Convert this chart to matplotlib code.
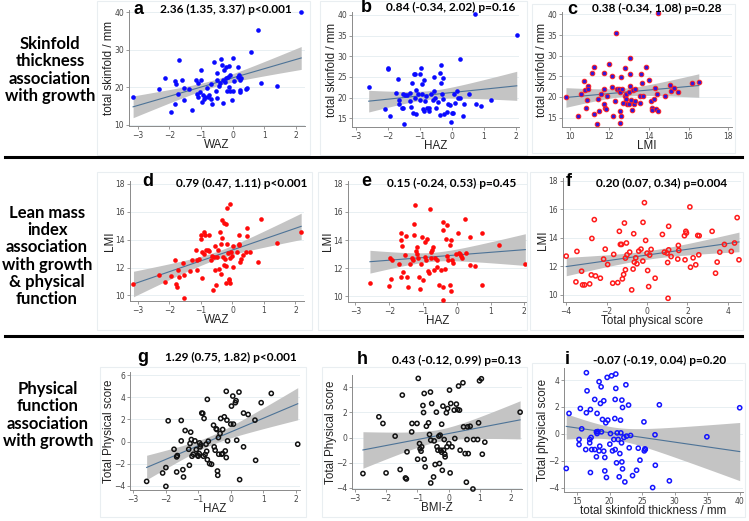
import numpy as np
import matplotlib
matplotlib.use("Agg")
import matplotlib.pyplot as plt
from matplotlib.patches import Rectangle

# ------------------------------------------------------------------
# data (one x list and one y list per panel)
# ------------------------------------------------------------------
waz_a = [-3.15, -2.34, -2.14, -1.95, -1.82, -1.79, -1.82, -1.71, -1.73, -1.60,
         -1.55, -1.53, -1.38, -1.30, -1.15, -1.11, -1.14, -1.11, -1.01, -1.01,
         -1.03, -0.97, -0.95, -0.91, -0.86, -0.82, -0.78, -0.74, -0.68, -0.64,
         -0.68, -0.59, -0.54, -0.51, -0.49, -0.49, -0.44, -0.39, -0.36, -0.34,
         -0.30, -0.32, -0.26, -0.25, -0.22, -0.20, -0.18, -0.15, -0.13, -0.11,
         -0.07, -0.07, -0.02, 0.01, 0.00, 0.03, 0.16, 0.18, 0.20, 0.22,
         0.22, 0.24, 0.26, 0.43, 0.45, 0.57, 0.81, 0.89, 1.41, 2.17]
skin_a = [17.3, 19.4, 22.4, 13.3, 21.7, 20.8, 15.5, 27.2, 18.2, 21.8,
          16.5, 19.7, 19.6, 13.9, 22.0, 21.1, 18.2, 17.3, 24.5, 22.0,
          18.6, 16.1, 18.0, 16.8, 17.3, 19.7, 17.3, 18.0, 16.8, 15.4,
          20.8, 26.8, 19.0, 23.8, 21.8, 17.0, 20.4, 21.0, 27.4, 25.8,
          15.7, 21.8, 24.5, 21.3, 22.4, 25.4, 19.0, 22.8, 19.9, 25.6,
          23.3, 18.9, 16.6, 27.8, 19.0, 21.7, 25.5, 22.7, 23.2, 19.2,
          18.8, 22.0, 22.4, 19.4, 19.7, 29.4, 35.2, 21.0, 20.4, 40.1]

haz_b = [0.73, 2.02, 0.24, -2.0, -2.0, -0.96, -0.33, -1.19, -1.16, -1.0,
         -0.57, -0.36, -0.28, -1.67, -1.25, -0.88, -0.93, -1.73, -1.53, -1.45,
         -1.41, -1.30, -1.13, -1.04, -1.14, -1.65, -1.65, -1.56, -1.51, -1.30,
         -1.27, -1.21, -1.11, -0.98, -0.93, -0.90, -0.86, -0.83, -0.80, -0.77,
         -0.72, -0.70, -0.64, -0.59, -0.55, -0.52, -0.49, -0.44, -0.38, -0.34,
         -0.32, -0.28, -0.24, -0.16, -0.13, -0.07, -0.02, 0.01, 0.05, 0.07,
         0.11, 0.16, 0.18, 0.26, 0.36, 0.38, 0.52, 0.74, 0.92, 1.22,
         -1.48, -1.94, -2.08, -2.59]
skin_b = [40.1, 35.2, 29.4, 27.1, 26.8, 27.2, 27.8, 25.6, 25.6, 25.7,
          24.9, 25.9, 24.8, 24.6, 23.6, 24.2, 23.3, 21.0, 20.9, 20.6,
          20.7, 21.2, 21.8, 20.8, 19.8, 19.5, 18.5, 17.5, 17.5, 19.1,
          17.7, 16.3, 16.0, 19.4, 20.9, 17.2, 16.8, 19.1, 20.5, 17.6,
          16.8, 17.5, 20.9, 19.5, 21.5, 20.0, 17.5, 18.9, 15.7, 23.6,
          20.9, 19.6, 16.1, 16.5, 18.5, 18.1, 14.0, 16.2, 16.2, 20.9,
          18.7, 21.5, 20.0, 20.0, 15.6, 18.5, 20.9, 18.5, 18.0, 19.5,
          13.6, 15.6, 17.3, 22.5]

lmi_c = [9.8, 10.42, 10.55, 10.71, 10.76, 10.81, 10.87, 10.92, 10.92, 11.14,
         11.21, 11.21, 11.38, 11.43, 11.48, 11.55, 11.73, 11.73, 11.73, 11.78,
         11.85, 11.88, 11.98, 12.12, 12.15, 12.18, 12.27, 12.35, 12.39, 12.49,
         12.55, 12.55, 12.57, 12.55, 12.6, 12.64, 12.69, 12.77, 12.77, 12.82,
         12.86, 12.91, 12.97, 12.99, 13.03, 13.06, 13.06, 13.11, 13.16, 13.19,
         13.23, 13.28, 13.28, 13.53, 13.56, 13.61, 13.66, 13.70, 13.83, 14.0,
         14.12, 14.17, 14.17, 14.24, 14.29, 14.34, 14.47, 14.47, 14.40, 14.79,
         15.04, 15.09, 15.29, 15.46, 16.18, 16.52]
skin_c = [20.0, 15.4, 20.7, 23.8, 21.6, 17.3, 19.3, 22.6, 21.8, 25.9,
          27.3, 15.9, 13.5, 19.6, 16.5, 20.8, 25.9, 22.0, 18.3, 17.3,
          17.0, 20.1, 28.0, 25.1, 22.3, 15.4, 18.9, 35.4, 22.0, 21.9,
          21.3, 16.7, 15.4, 13.7, 24.9, 22.0, 18.6, 20.2, 26.9, 19.4,
          20.8, 18.3, 21.3, 18.4, 22.6, 25.5, 29.4, 19.3, 16.9, 21.6,
          18.3, 21.9, 19.0, 20.1, 18.6, 25.5, 23.4, 20.3, 27.3, 24.2,
          19.1, 17.3, 16.9, 19.6, 22.1, 17.1, 40.3, 16.7, 20.6, 20.1,
          22.9, 21.5, 22.1, 21.3, 23.4, 23.7]

waz_d = [-3.14, -2.34, -2.15, -1.95, -1.81, -1.80, -1.77, -1.72, -1.68, -1.58,
         -1.55, -1.53, -1.34, -1.28, -1.16, -1.11, -1.11, -1.06, -1.01, -0.99,
         -0.97, -0.96, -0.91, -0.89, -0.86, -0.83, -0.78, -0.75, -0.74, -0.68,
         -0.64, -0.61, -0.58, -0.56, -0.54, -0.51, -0.49, -0.47, -0.44, -0.41,
         -0.36, -0.36, -0.34, -0.32, -0.31, -0.28, -0.26, -0.24, -0.22, -0.20,
         -0.19, -0.18, -0.16, -0.14, -0.11, -0.11, -0.09, -0.07, -0.07, -0.05,
         -0.03, 0.01, 0.03, 0.16, 0.20, 0.22, 0.22, 0.24, 0.28, 0.32,
         0.43, 0.45, 0.45, 0.57, 0.82, 0.91, 1.41, 2.18]
lmi_d = [10.84, 11.46, 10.98, 11.41, 12.56, 10.82, 10.60, 11.79, 11.29, 12.32,
         11.46, 9.81, 11.72, 12.56, 13.27, 12.51, 11.84, 12.61, 14.04, 14.35,
         11.25, 13.08, 12.99, 14.56, 14.32, 13.27, 13.27, 14.35, 13.20, 12.56,
         12.84, 10.41, 12.75, 13.51, 11.84, 10.77, 12.75, 13.27, 11.89, 14.52,
         11.55, 13.70, 15.37, 14.11, 12.75, 12.20, 15.18, 12.61, 15.11, 12.13,
         10.89, 16.26, 13.68, 13.04, 11.08, 11.17, 12.68, 16.57, 10.89, 13.08,
         12.84, 13.51, 12.03, 13.08, 13.63, 14.32, 13.70, 12.37, 12.61, 12.92,
         13.13, 14.85, 14.28, 13.13, 12.37, 15.49, 13.75, 14.54]

haz_e = [-2.57, -2.01, -1.96, -1.98, -1.91, -1.72, -1.66, -1.64, -1.62, -1.64,
         -1.58, -1.52, -1.51, -1.47, -1.45, -1.37, -1.32, -1.29, -1.27, -1.27,
         -1.23, -1.21, -1.19, -1.17, -1.14, -1.12, -1.09, -1.05, -1.02, -0.99,
         -0.95, -0.94, -0.92, -0.87, -0.85, -0.82, -0.79, -0.77, -0.75, -0.72,
         -0.69, -0.67, -0.65, -0.59, -0.57, -0.53, -0.47, -0.42, -0.40, -0.40,
         -0.40, -0.36, -0.33, -0.30, -0.28, -0.26, -0.21, -0.20, -0.18, -0.16,
         -0.13, -0.10, -0.02, 0.04, 0.07, 0.10, 0.14, 0.17, 0.24, 0.27,
         0.40, 0.40, 0.53, 0.74, 0.76, 1.25, 2.03]
lmi_e = [10.94, 10.77, 11.20, 12.75, 12.56, 12.32, 14.0, 14.47, 13.56, 11.36,
         11.72, 12.96, 14.32, 11.36, 10.70, 12.27, 12.75, 12.56, 14.35, 15.11,
         16.50, 13.20, 12.99, 13.51, 12.75, 11.41, 10.53, 12.27, 14.23, 11.13,
         12.80, 13.85, 12.56, 14.11, 11.77, 11.65, 16.19, 12.75, 13.16, 13.32,
         13.51, 11.84, 12.75, 12.61, 12.08, 10.84, 11.84, 15.30, 14.75, 10.70,
         9.74, 11.96, 14.11, 12.84, 15.06, 12.61, 13.63, 10.84, 14.04, 10.41,
         12.56, 12.37, 13.04, 14.47, 13.08, 12.99, 12.84, 12.75, 15.47, 13.08,
         14.23, 12.20, 12.13, 14.47, 10.84, 13.68, 12.32]

phys_f = [-4.0, -3.52, -3.47, -3.24, -3.19, -3.09, -2.84, -2.76, -2.73, -2.61,
          -2.55, -2.31, -2.15, -2.07, -1.95, -1.70, -1.65, -1.45, -1.37, -1.32,
          -1.26, -1.22, -1.16, -1.12, -1.07, -1.07, -1.02, -0.99, -0.86, -0.76,
          -0.69, -0.66, -0.63, -0.56, -0.50, -0.41, -0.30, -0.21, -0.20, -0.13,
          -0.07, 0.0, 0.03, 0.08, 0.13, 0.20, 0.40, 0.76, 0.86, 0.99,
          1.02, 1.04, 1.07, 1.07, 1.19, 1.52, 1.55, 1.57, 1.85, 1.88,
          1.92, 1.95, 2.12, 2.15, 2.28, 2.41, 2.51, 2.58, 2.56, 3.22,
          3.39, 3.47, 3.60, 3.83, 4.17, 4.33, 4.46, 4.55]
lmi_f = [12.72, 10.91, 13.05, 11.66, 10.70, 10.70, 10.77, 11.40, 13.96, 15.28,
         11.33, 11.17, 12.51, 13.21, 12.13, 10.82, 12.84, 10.86, 14.46, 13.54,
         13.54, 11.12, 11.43, 15.04, 12.58, 11.76, 13.64, 12.81, 13.0, 10.35,
         11.81, 14.29, 12.30, 12.60, 12.18, 13.07, 13.21, 12.37, 15.09, 16.47,
         13.82, 12.93, 11.71, 10.58, 12.79, 13.19, 11.17, 14.24, 13.0, 12.93,
         12.27, 9.76, 14.81, 13.16, 12.69, 12.51, 13.47, 13.12, 14.15, 12.46,
         14.46, 14.34, 16.17, 11.94, 12.60, 12.11, 14.17, 14.15, 12.81, 14.46,
         11.52, 12.30, 13.0, 13.54, 13.05, 13.64, 15.42, 12.46]

haz_g = [-2.58, -2.09, -1.99, -1.99, -1.92, -1.74, -1.66, -1.64, -1.66, -1.52,
         -1.52, -1.47, -1.45, -1.40, -1.29, -1.27, -1.23, -1.25, -1.21, -1.19,
         -1.15, -1.10, -1.06, -1.02, -1.00, -0.97, -0.96, -0.94, -0.92, -0.89,
         -0.86, -0.84, -0.82, -0.79, -0.76, -0.74, -0.72, -0.72, -0.69, -0.65,
         -0.59, -0.53, -0.51, -0.48, -0.45, -0.43, -0.41, -0.40, -0.38, -0.37,
         -0.33, -0.31, -0.28, -0.25, -0.25, -0.20, -0.17, -0.14, -0.14, -0.12,
         -0.10, 0.0, 0.02, 0.06, 0.08, 0.14, 0.16, 0.18, 0.25, 0.27,
         0.39, 0.39, 0.53, 0.74, 0.76, 0.93, 1.24, 2.05]
phys_g = [-3.61, -2.85, -2.36, -4.06, 1.88, -0.70, -1.39, -1.27, -2.76, 1.91,
          0.06, -2.55, -3.21, 1.0, -0.70, -2.15, 0.85, -0.18, 0.18, -1.33,
          -1.15, 0.06, -0.73, -1.24, -1.33, -1.09, -0.12, -0.48, -0.30, 2.58,
          2.55, -1.33, 2.09, -1.18, -0.24, -0.88, 3.82, -1.64, 0.03, -2.0,
          -2.06, 1.48, -0.48, -0.79, 1.15, 1.09, -2.67, -3.06, 0.36, -1.15,
          0.73, 2.09, -1.15, 1.09, -1.09, 2.24, -0.85, 4.55, -1.45, 1.94,
          0.06, 1.58, 3.21, 4.12, 1.58, 3.52, 3.70, 0.12, 4.48, -3.45,
          2.58, -0.48, 2.45, 1.94, -1.70, 3.52, 4.36, -0.24]

bmiz_h = [-2.74, -2.23, -2.10, -2.0, -1.71, -1.55, -1.48, -1.38, -1.35, -1.33,
          -1.18, -1.17, -1.01, -0.99, -0.97, -0.93, -0.91, -0.88, -0.86, -0.78,
          -0.78, -0.82, -0.80, -0.75, -0.71, -0.64, -0.61, -0.58, -0.57, -0.57,
          -0.54, -0.48, -0.46, -0.43, -0.39, -0.37, -0.34, -0.31, -0.29, -0.27,
          -0.25, -0.22, -0.22, -0.20, -0.18, -0.16, -0.14, -0.12, -0.11, -0.07,
          -0.05, -0.03, 0.01, 0.03, 0.07, 0.05, 0.11, 0.18, 0.20, 0.25,
          0.29, 0.32, 0.35, 0.37, 0.46, 0.48, 0.53, 0.59, 0.57, 0.61,
          0.63, 0.69, 0.78, 0.80, 0.93, 0.96, 0.99, 1.05, 1.08, 1.16, 2.29]
phys_h = [-2.87, 1.65, 1.12, -2.82, 0.11, -2.55, 3.38, -3.22, -3.30, -1.14,
          0.45, 1.12, 1.12, -1.73, 4.71, -0.48, -0.90, -1.09, -0.74, 3.51,
          -1.73, 2.55, 1.99, -2.34, 0.90, 1.17, 0.24, 3.62, -0.21, -3.62,
          2.71, -3.14, -0.27, -2.15, 2.02, -0.74, -1.01, 0.11, -2.07, 0.19,
          -1.01, -1.17, 1.06, -2.61, 2.50, -1.01, -0.16, -1.33, -1.54, 1.97,
          -0.74, 2.31, -0.48, 3.78, 2.71, -2.82, -0.74, 2.18, -0.08, 2.66,
          2.23, 4.10, 2.18, -1.01, 4.36, 0.85, -1.28, -0.16, -3.56, 0.85,
          -1.28, 0.90, -4.10, -0.16, -0.16, 1.17, 4.52, 4.68, -1.33, -0.37, 2.02]

skin_i = [13.35, 13.77, 15.31, 15.31, 15.51, 15.72, 16.44, 16.34, 16.54, 16.44,
          16.95, 16.95, 17.06, 17.06, 17.16, 17.26, 17.72, 17.72, 17.98, 17.98,
          18.08, 18.08, 18.19, 18.39, 18.49, 18.60, 18.39, 18.70, 18.75, 18.91,
          19.11, 19.11, 19.27, 19.27, 19.42, 19.52, 19.63, 19.73, 20.04, 20.14,
          20.30, 20.45, 20.66, 20.81, 20.86, 20.96, 20.86, 20.96, 21.07, 21.17,
          21.32, 21.48, 21.58, 21.68, 21.73, 21.84, 21.89, 21.89, 21.99, 21.99,
          22.20, 22.35, 22.51, 22.61, 22.92, 23.23, 23.02, 23.53, 24.15, 24.41,
          24.67, 25.28, 25.33, 25.44, 25.49, 26.62, 26.98, 27.03, 27.65, 29.19,
          34.95, 39.99]
phys_i = [-2.58, 1.52, -0.42, -0.80, 1.89, 0.37, 4.55, -1.17, 3.20, 1.57,
          -0.67, -0.42, -2.88, 1.81, -0.27, -1.17, 2.56, -1.17, -1.71, 0.15,
          1.52, 0.02, 0.17, -1.27, -0.92, 2.26, 3.88, 3.50, 0.15, 1.07,
          2.46, -1.29, -1.76, -2.76, 0.82, -3.25, 4.20, 1.02, -0.77, 0.02,
          4.32, -1.27, -0.42, 1.14, -1.17, 4.45, 2.56, 3.38, -2.16, 0.07,
          -0.42, -3.20, -1.47, 1.02, 0.07, -0.67, -2.09, 2.51, -2.61, 1.96,
          -0.27, -3.58, 3.65, -0.17, 2.14, -0.12, -1.04, -3.11, -2.71, -1.07,
          -1.96, 0.89, -1.27, -1.12, -1.17, -4.0, -0.07, -2.34, 2.16, -3.50,
          -0.22, 1.94]

row_labels = ["Skinfold\nthickness\nassociation\nwith growth",
              "Lean mass\nindex\nassociation\nwith growth\n& physical\nfunction",
              "Physical\nfunction\nassociation\nwith growth"]
stats = ["2.36 (1.35, 3.37) p<0.001", "0.84 (-0.34, 2.02) p=0.16",
         "0.38 (-0.34, 1.08) p=0.28", "0.79 (0.47, 1.11) p<0.001",
         "0.15 (-0.24, 0.53) p=0.45", "0.20 (0.07, 0.34) p=0.004",
         "1.29 (0.75, 1.82) p<0.001", "0.43 (-0.12, 0.99) p=0.13",
         "-0.07 (-0.19, 0.04) p=0.20"]

# ------------------------------------------------------------------
W, H = 749, 521
fig = plt.figure(figsize=(W / 100, H / 100), dpi=100)
fig.patch.set_facecolor("white")

BOLD = "Lato"
LINE_C = "#4d7397"
BAND_C = "#c4c4c4"


def px_axes(l, t, r, b):
    return fig.add_axes([l / W, 1 - b / H, (r - l) / W, (b - t) / H])


def ftext(x, y, s, **kw):
    fig.text(x / W, 1 - y / H, s, **kw)


def panel(rect, x, y, xlim, ylim, xticks, yticks, xlabel, ylabel, mstyle):
    ax = px_axes(*rect)
    x = np.asarray(x, float)
    y = np.asarray(y, float)
    # linear fit with 95% CI of the mean (like Stata lfitci)
    b1, b0 = np.polyfit(x, y, 1)
    n = len(x)
    res = y - (b0 + b1 * x)
    s = np.sqrt(np.sum(res ** 2) / (n - 2))
    sxx = np.sum((x - x.mean()) ** 2)
    xs = np.linspace(x.min(), x.max(), 100)
    yh = b0 + b1 * xs
    se = s * np.sqrt(1 / n + (xs - x.mean()) ** 2 / sxx)
    ax.fill_between(xs, yh - 1.99 * se, yh + 1.99 * se, color=BAND_C,
                    lw=0, zorder=2)
    ax.plot(xs, yh, color=LINE_C, lw=0.8, zorder=3)
    ax.scatter(x, y, zorder=4, clip_on=False, **mstyle)

    ax.set_xlim(*xlim)
    ax.set_ylim(*ylim)
    ax.set_xticks(xticks)
    ax.set_yticks(yticks)
    for v in yticks:
        ax.axhline(v, color="#e4ecf0", lw=0.6, zorder=1)
    for sp in ["top", "right"]:
        ax.spines[sp].set_visible(False)
    for sp in ["left", "bottom"]:
        ax.spines[sp].set_color("#8a8a8a")
        ax.spines[sp].set_linewidth(0.7)
    ax.tick_params(direction="out", length=2.5, width=0.6, color="#8a8a8a",
                   labelsize=5.5, labelcolor="#444444", pad=1)
    ax.set_xlabel(xlabel, fontsize=8.4, family="Liberation Sans",
                  color="#222222", labelpad=-0.5)
    ax.set_ylabel(ylabel, fontsize=8.4, family="Liberation Sans",
                  color="#222222", labelpad=-0.5)
    return ax


dot_blue = dict(s=11, color="#0a0aff", linewidths=0)
dot_red = dict(s=11, color="#ff0a0a", linewidths=0)
dot_c = dict(s=11, facecolors="#3318d8", edgecolors="#ff2020", linewidths=0.7)
ring_red = dict(s=9, facecolors="none", edgecolors="#ff1a1a", linewidths=1.1)
ring_blk = dict(s=9, facecolors="none", edgecolors="#111111", linewidths=1.1)
ring_blue = dict(s=9, facecolors="none", edgecolors="#1414ff", linewidths=1.1)

z = [-3, -2, -1, 0, 1, 2]
panel((129, 10, 305, 126), waz_a, skin_a, (-3.28, 2.29), (9.6, 40.6), z,
      [10, 20, 30, 40], "WAZ", "total skinfold / mm", dot_blue)
panel((352, 12, 519, 127), haz_b, skin_b, (-3.11, 2.09), (12.9, 40.7), z,
      [15, 20, 25, 30, 35, 40], "HAZ", "total skinfold / mm", dot_blue)
panel((562, 12, 732, 127), lmi_c, skin_c, (9.6, 18.2), (12.7, 40.6),
      [10, 12, 14, 16, 18], [15, 20, 25, 30, 35, 40], "LMI",
      "total skinfold / mm", dot_c)
panel((130, 181, 304, 301), waz_d, lmi_d, (-3.25, 2.27), (9.6, 18.2), z,
      [10, 12, 14, 16, 18], "WAZ", "LMI", dot_red)
panel((348, 181, 527, 302), haz_e, lmi_e, (-3.22, 2.08), (9.6, 18.2), z,
      [10, 12, 14, 16, 18], "HAZ", "LMI", dot_red)
panel((563, 178, 741, 302), phys_f, lmi_f, (-4.16, 4.65), (9.5, 18.2),
      [-4, -2, 0, 2, 4], [10, 12, 14, 16, 18], "Total physical score", "LMI",
      ring_red)
panel((130, 372, 300, 490), haz_g, phys_g, (-3.09, 2.12), (-4.39, 6.3), z,
      [-4, -2, 0, 2, 4, 6], "HAZ", "Total Physical score", ring_blk)
panel((352, 375, 522, 489), bmiz_h, phys_h, (-3.09, 2.35), (-4.1, 4.98), z,
      [-4, -2, 0, 2, 4], "BMI-Z", "Total Physical score", ring_blk)
panel((564, 368, 743, 492), skin_i, phys_i, (13.0, 40.5), (-4.33, 4.9),
      [15, 20, 25, 30, 35, 40], [-4, -2, 0, 2, 4],
      "total skinfold thickness / mm", "Total physical score", ring_blue)

# faint graph-region frames
frames = [(97, 1, 310, 155), (320, 1, 527, 155), (532, 4, 735, 153),
          (97, 172, 312, 330), (318, 172, 527, 330), (530, 172, 743, 330),
          (100, 367, 306, 517), (322, 367, 527, 517), (532, 363, 745, 517)]
for l, t, r, b in frames:
    fig.patches.append(Rectangle((l / W, 1 - b / H), (r - l) / W, (b - t) / H,
                                 transform=fig.transFigure, fill=False,
                                 ec="#e9eef1", lw=0.8, zorder=0))

# panel letters and estimates
letters = ["a", "b", "c", "d", "e", "f", "g", "h", "i"]
letter_xy = [(134, 10), (361, 8), (567, 9), (142, 181), (361, 181),
             (566, 181), (137, 358), (357, 360), (565, 360)]
stat_xy = [(160, 9), (386, 7), (592, 8), (176, 183), (387, 183),
           (596, 183), (165, 357), (392, 360), (593, 360)]
for lt, (lx, ly), st, (sx, sy) in zip(letters, letter_xy, stats, stat_xy):
    ftext(lx, ly, lt, fontsize=13, fontweight="bold", family="Liberation Sans",
          ha="left", va="center")
    ftext(sx, sy, st, fontsize=8.6, fontweight="bold", family=BOLD,
          ha="left", va="center")

# row titles
for (cx, cy), lab in zip([(50, 70), (47, 256), (48, 415)], row_labels):
    ftext(cx, cy, lab, fontsize=12, fontweight="bold", family=BOLD,
          ha="center", va="center", linespacing=1.1)

# separators between rows
for yy in [157, 336]:
    fig.add_artist(plt.Line2D([5 / W, 742 / W], [1 - yy / H, 1 - yy / H],
                              transform=fig.transFigure, color="black", lw=2.2))

fig.savefig("out.png", dpi=100)
